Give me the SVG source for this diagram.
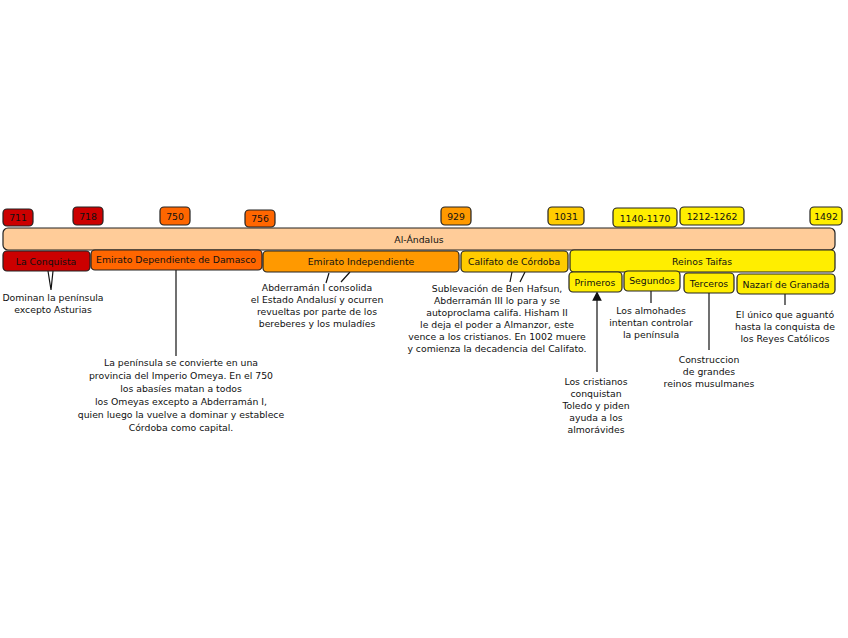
<svg xmlns="http://www.w3.org/2000/svg" width="848" height="638" viewBox="0 0 848 638">
<style>
.b{stroke:#222;stroke-width:1.2}
.t{font-family:"DejaVu Sans",Verdana,sans-serif;font-size:9.3px;fill:#111;text-anchor:middle}
.c{stroke:#111;stroke-width:1.2;fill:none}
.r1{fill:#cc0000}.r2{fill:#ff6600}.r3{fill:#ff9900}.r4{fill:#ffcc00}.r5{fill:#ffee00}
</style>
<defs><marker id="ah" markerWidth="8" markerHeight="8" refX="4" refY="4" orient="auto"><path d="M0,0 L8,4 L0,8 z" fill="#111"/></marker></defs>
<rect width="848" height="638" fill="#fff"/>
<g id="connectors">
<path class="c" d="M48,271 L51,290 M53,271 L51,290"/>
<path class="c" d="M176,270 V356"/>
<path class="c" d="M329,273 L326,283 M350,272 L341,282"/>
<path class="c" d="M512,272 L510,282 M525,272 L520,282"/>
<path class="c" d="M597,372 V296" marker-end="url(#ah)"/>
<path class="c" d="M651,291 V303"/>
<path class="c" d="M709,293 V350"/>
<path class="c" d="M785,294 V305"/>
</g>
<g id="y711"><rect class="b r1" x="3" y="209" width="30" height="17" rx="4"/><text class="t" x="18" y="221">711</text></g>
<g id="y718"><rect class="b r1" x="73" y="207" width="30" height="18" rx="4"/><text class="t" x="88" y="220">718</text></g>
<g id="y750"><rect class="b r2" x="160" y="207" width="30" height="18" rx="4"/><text class="t" x="175" y="220">750</text></g>
<g id="y756"><rect class="b r2" x="245" y="210" width="30" height="17" rx="4"/><text class="t" x="260" y="222">756</text></g>
<g id="y929"><rect class="b r3" x="441" y="207" width="30" height="18" rx="4"/><text class="t" x="456" y="220">929</text></g>
<g id="y1031"><rect class="b r4" x="548" y="207" width="36" height="18" rx="4"/><text class="t" x="566" y="220">1031</text></g>
<g id="y1140"><rect class="b r5" x="613" y="208" width="64" height="19" rx="4"/><text class="t" x="645" y="222">1140-1170</text></g>
<g id="y1212"><rect class="b r5" x="680" y="207" width="64" height="18" rx="4"/><text class="t" x="712" y="220">1212-1262</text></g>
<g id="y1492"><rect class="b r5" x="810" y="207" width="32" height="18" rx="4"/><text class="t" x="826" y="220">1492</text></g>
<g id="andalus"><rect class="b" fill="#ffcc99" x="3" y="228" width="832" height="22" rx="5"/><text class="t" x="419" y="243">Al-Ándalus</text></g>
<g id="conquista"><rect class="b r1" x="3" y="251" width="87" height="20" rx="4"/><text class="t" x="46" y="265">La Conquista</text></g>
<g id="emdep"><rect class="b r2" x="91" y="250" width="171" height="20" rx="4"/><text class="t" x="176" y="263">Emirato Dependiente de Damasco</text></g>
<g id="emind"><rect class="b r3" x="263" y="251" width="196" height="21" rx="4"/><text class="t" x="361" y="265">Emirato Independiente</text></g>
<g id="califato"><rect class="b r4" x="461" y="251" width="107" height="21" rx="4"/><text class="t" x="514" y="265">Califato de Córdoba</text></g>
<g id="taifas"><rect class="b r5" x="570" y="250" width="265" height="22" rx="4"/><text class="t" x="702" y="265">Reinos Taifas</text></g>
<g id="primeros"><rect class="b r5" x="569" y="272" width="53" height="20" rx="4"/><text class="t" x="595" y="286">Primeros</text></g>
<g id="segundos"><rect class="b r5" x="624" y="271" width="56" height="20" rx="4"/><text class="t" x="652" y="284">Segundos</text></g>
<g id="terceros"><rect class="b r5" x="684" y="273" width="50" height="20" rx="4"/><text class="t" x="709" y="287">Terceros</text></g>
<g id="nazari"><rect class="b r5" x="737" y="274" width="98" height="20" rx="4"/><text class="t" x="786" y="288">Nazarí de Granada</text></g>
<g id="n1"><text class="t" x="53" y="301">Dominan la península</text><text class="t" x="53" y="313">excepto Asturias</text></g>
<g id="n2"><text class="t" x="181" y="366">La península se convierte en una</text><text class="t" x="181" y="379">provincia del Imperio Omeya. En el 750</text><text class="t" x="181" y="392">los abasíes matan a todos</text><text class="t" x="181" y="405">los Omeyas excepto a Abderramán I,</text><text class="t" x="181" y="418">quien luego la vuelve a dominar y establece</text><text class="t" x="181" y="431">Córdoba como capital.</text></g>
<g id="n3"><text class="t" x="317" y="291">Abderramán I consolida</text><text class="t" x="317" y="303">el Estado Andalusí y ocurren</text><text class="t" x="317" y="315">revueltas por parte de los</text><text class="t" x="317" y="327">bereberes y los muladíes</text></g>
<g id="n4"><text class="t" x="497" y="292">Sublevación de Ben Hafsun,</text><text class="t" x="497" y="304">Abderramán III lo para y se</text><text class="t" x="497" y="316">autoproclama califa. Hisham II</text><text class="t" x="497" y="328">le deja el poder a Almanzor, este</text><text class="t" x="497" y="340">vence a los cristianos. En 1002 muere</text><text class="t" x="497" y="352">y comienza la decadencia del Califato.</text></g>
<g id="n5"><text class="t" x="596" y="385">Los cristianos</text><text class="t" x="596" y="397">conquistan</text><text class="t" x="596" y="409">Toledo y piden</text><text class="t" x="596" y="421">ayuda a los</text><text class="t" x="596" y="433">almorávides</text></g>
<g id="n6"><text class="t" x="651" y="314">Los almohades</text><text class="t" x="651" y="326">intentan controlar</text><text class="t" x="651" y="338">la península</text></g>
<g id="n7"><text class="t" x="709" y="363">Construccion</text><text class="t" x="709" y="375">de grandes</text><text class="t" x="709" y="387">reinos musulmanes</text></g>
<g id="n8"><text class="t" x="785" y="318">El único que aguantó</text><text class="t" x="785" y="330">hasta la conquista de</text><text class="t" x="785" y="342">los Reyes Católicos</text></g>
</svg>
